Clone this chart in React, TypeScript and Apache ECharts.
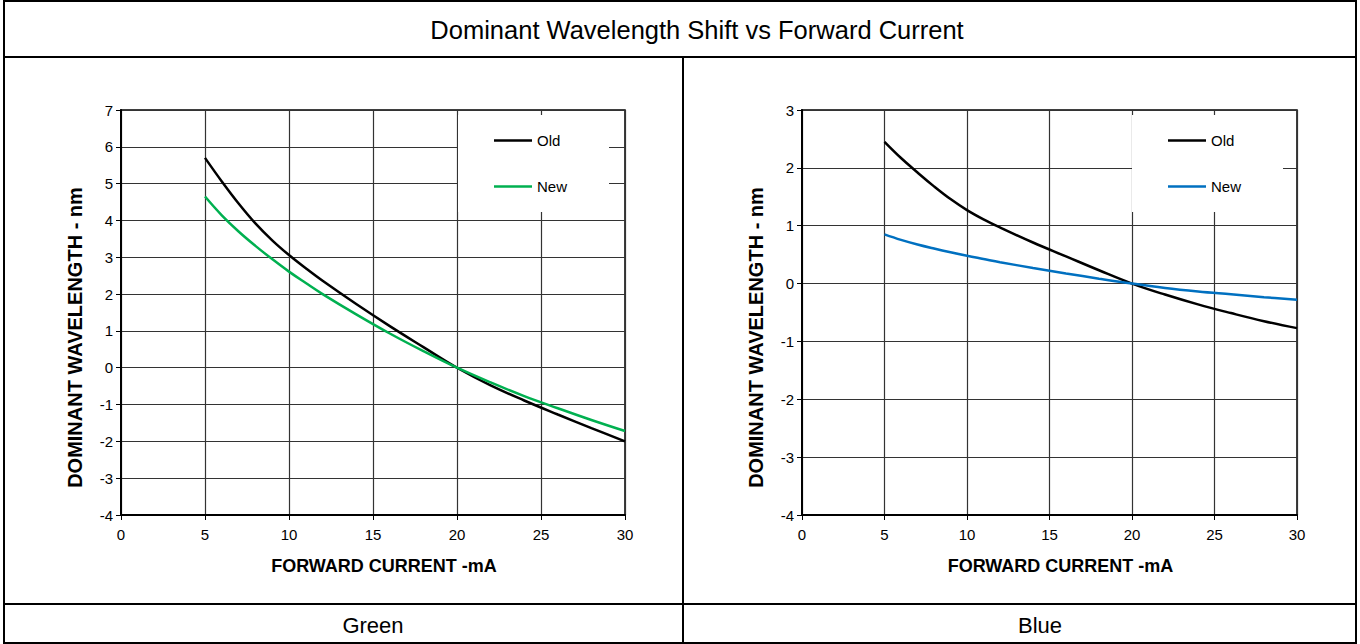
import React, { useEffect, useRef } from "react";
import * as echarts from "echarts";

const currents = [5, 6, 7, 8, 9, 10, 11, 12, 14, 16, 18, 20, 22, 24, 26, 28, 30];
const greenOld = [5.7, 5.06, 4.46, 3.92, 3.46, 3.06, 2.7, 2.36, 1.73, 1.13, 0.56, 0, -0.48, -0.89, -1.27, -1.64, -2.0];
const greenNew = [4.65, 4.14, 3.7, 3.31, 2.95, 2.61, 2.3, 2.0, 1.45, 0.93, 0.45, 0, -0.4, -0.77, -1.1, -1.42, -1.72];
const blueOld = [2.45, 2.17, 1.92, 1.68, 1.46, 1.27, 1.11, 0.97, 0.71, 0.47, 0.23, 0, -0.19, -0.36, -0.51, -0.65, -0.77];
const blueNew = [0.85, 0.755, 0.675, 0.605, 0.54, 0.48, 0.425, 0.37, 0.27, 0.175, 0.085, 0, -0.075, -0.135, -0.185, -0.235, -0.28];
const xTicks = { min: 0, max: 30, interval: 5 };
const greenY = { min: -4, max: 7, interval: 1 };
const blueY = { min: -4, max: 3, interval: 1 };
const title = "Dominant Wavelength Shift vs Forward Current";
const panelLabels = ["Green", "Blue"];
const xName = "FORWARD CURRENT -mA";
const yName = "DOMINANT WAVELENGTH - nm";

const FONT = "Liberation Sans, Arial, sans-serif";

function pairs(ys: number[]) {
  return currents.map((x, i) => [x, ys[i]]);
}

export default function App() {
  const ref = useRef<HTMLDivElement>(null);
  useEffect(() => {
    if (!ref.current) return;
    const chart = echarts.init(ref.current, null, { renderer: "svg" });
    const xAxisBase = (gridIndex: number) => ({
      type: "value",
      gridIndex,
      ...xTicks,
      name: xName,
      nameLocation: "middle",
      nameGap: 42,
      nameTextStyle: { fontFamily: FONT, fontWeight: "bold", fontSize: 18, color: "#000", padding: [0, 0, 0, 22] },
      axisLine: { show: true, onZero: false, lineStyle: { color: "#000", width: 2 } },
      axisTick: { show: true, length: 5, lineStyle: { color: "#000", width: 1 } },
      axisLabel: { fontFamily: FONT, fontSize: 15, color: "#000", margin: 12 },
      splitLine: { show: true, lineStyle: { color: "#333", width: 1.2 } },
    });
    const yAxisBase = (gridIndex: number, r: any) => ({
      type: "value",
      gridIndex,
      ...r,
      name: yName,
      nameLocation: "middle",
      nameRotate: 90,
      nameGap: 36,
      nameTextStyle: { fontFamily: FONT, fontWeight: "bold", fontSize: 20, color: "#000", padding: [0, 50, 0, 0] },
      axisLine: { show: true, onZero: false, lineStyle: { color: "#000", width: 2 } },
      axisTick: { show: true, length: 5, lineStyle: { color: "#000", width: 1 } },
      axisLabel: { fontFamily: FONT, fontSize: 15, color: "#000", margin: 8 },
      splitLine: { show: true, lineStyle: { color: "#333", width: 1.2 } },
    });
    const lineSeries = (name: string, data: number[], color: string, idx: number) => ({
      type: "line",
      name,
      xAxisIndex: idx,
      yAxisIndex: idx,
      data: pairs(data),
      symbol: "none",
      showSymbol: false,
      smooth: 0.4,
      color,
      lineStyle: { color, width: 2.5 },
      z: 3,
    });
    const legendBase = (left: number, data: string[], fmt: (n: string) => string) => ({
      left,
      top: 115,
      orient: "vertical",
      data,
      formatter: fmt,
      icon: "rect",
      itemWidth: 38,
      itemHeight: 2.5,
      itemGap: 31,
      backgroundColor: "#fff",
      padding: [18, 42, 18, 36],
      textStyle: { fontFamily: FONT, fontSize: 15, color: "#000" },
      selectedMode: false,
      z: 5,
    });
    const line = (x1: number, y1: number, x2: number, y2: number, w = 2) => ({
      type: "line",
      shape: { x1, y1, x2, y2 },
      style: { stroke: "#000", lineWidth: w },
      silent: true,
    });
    chart.setOption({
      animation: false,
      backgroundColor: "#fff",
      grid: [
        { left: 121, top: 110, width: 504, height: 405, show: true, borderColor: "#000", borderWidth: 1.5, backgroundColor: "transparent" },
        { left: 802, top: 110, width: 495, height: 405, show: true, borderColor: "#000", borderWidth: 1.5, backgroundColor: "transparent" },
      ],
      xAxis: [xAxisBase(0), xAxisBase(1)],
      yAxis: [yAxisBase(0, greenY), yAxisBase(1, blueY)],
      legend: [
        legendBase(458, ["Old", "New"], (n: string) => n),
        legendBase(1132, ["Blue Old", "Blue New"], (n: string) => n.replace("Blue ", "")),
      ],
      series: [
        lineSeries("Old", greenOld, "#000000", 0),
        lineSeries("New", greenNew, "#00b050", 0),
        lineSeries("Blue Old", blueOld, "#000000", 1),
        lineSeries("Blue New", blueNew, "#0070c0", 1),
      ],
      graphic: [
        {
          type: "rect",
          shape: { x: 4, y: 1, width: 1352, height: 642 },
          style: { fill: "none", stroke: "#000", lineWidth: 2 },
          silent: true,
        },
        line(4, 57, 1356, 57),
        line(683, 57, 683, 643),
        line(4, 604, 1356, 604),
        {
          type: "text",
          x: 697,
          y: 30,
          style: { text: title, fontFamily: FONT, fontSize: 25.5, fill: "#000", align: "center", verticalAlign: "middle" },
        },
        {
          type: "text",
          x: 373,
          y: 625,
          style: { text: panelLabels[0], fontFamily: FONT, fontSize: 22, fill: "#000", align: "center", verticalAlign: "middle" },
        },
        {
          type: "text",
          x: 1040,
          y: 625,
          style: { text: panelLabels[1], fontFamily: FONT, fontSize: 22, fill: "#000", align: "center", verticalAlign: "middle" },
        },
      ],
    });
    return () => chart.dispose();
  }, []);
  return (
    <div
      ref={ref}
      style={{ position: "fixed", left: 0, top: 0, width: 1360, height: 644, background: "#fff" }}
    />
  );
}
